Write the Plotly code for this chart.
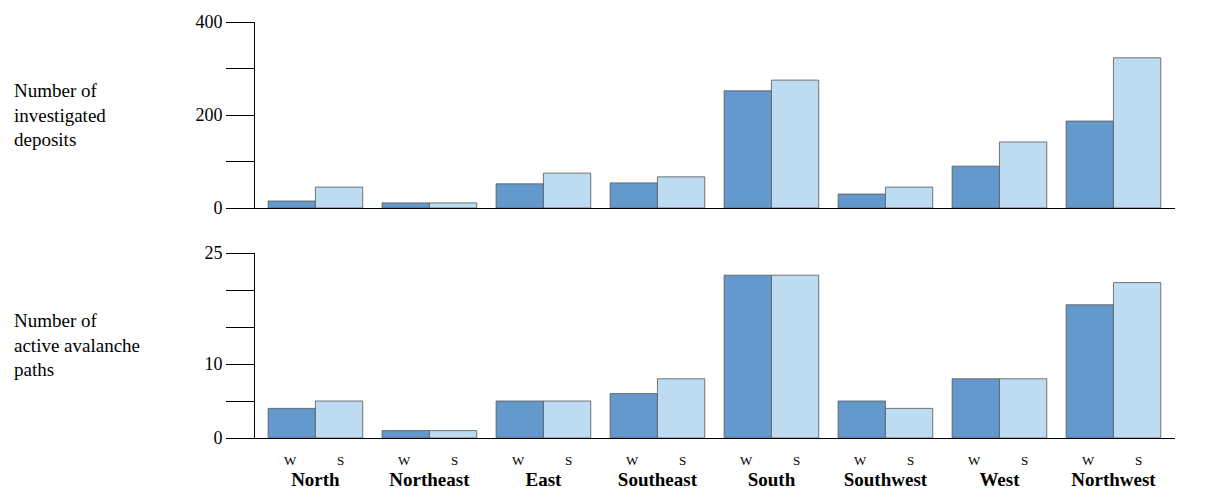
import plotly.graph_objects as go
from plotly.subplots import make_subplots

directions = ["North", "Northeast", "East", "Southeast", "South", "Southwest", "West", "Northwest"]
deposits_w = [15, 11, 52, 54, 252, 30, 90, 187]
deposits_s = [45, 11, 75, 67, 275, 45, 142, 323]
paths_w = [4, 1, 5, 6, 22, 5, 8, 18]
paths_s = [5, 1, 5, 8, 22, 4, 8, 21]

dark = "#6399cd"
light = "#bddcf1"
font = "Liberation Serif"

W, H = 1217, 489
OFF = 8  # page body margin


def px(x):
    return (x - OFF) / W


def py(y):
    return 1 - (y - OFF) / H


fig = make_subplots(rows=2, cols=1)
for row, (w, s) in enumerate([(deposits_w, deposits_s), (paths_w, paths_s)], start=1):
    fig.add_trace(go.Bar(x=directions, y=w, marker=dict(color=dark, line=dict(color="#555", width=0.8))), row=row, col=1)
    fig.add_trace(go.Bar(x=directions, y=s, marker=dict(color=light, line=dict(color="#555", width=0.8))), row=row, col=1)

xdom = [px(255), px(1175)]
xr = [-0.53, 7.54]
fig.update_layout(
    width=W, height=H, margin=dict(l=0, r=0, t=0, b=0),
    plot_bgcolor="white", paper_bgcolor="white", showlegend=False,
    barmode="group", bargap=0.17, bargroupgap=0,
    font=dict(family=font, size=18, color="black"),
    xaxis=dict(domain=xdom, range=xr, showline=True, linecolor="black", showticklabels=False, ticks="",
               automargin=False),
    xaxis2=dict(domain=xdom, range=xr, showline=True, linecolor="black", ticks="", automargin=False,
                tickvals=directions, ticktext=[f"<b>{d}</b>" for d in directions],
                ticklabelstandoff=24, tickfont=dict(size=19)),
    yaxis=dict(domain=[py(208), py(22)], range=[0, 400], showline=True, linecolor="black",
               showgrid=False, ticks="outside", ticklen=28, tickcolor="black", automargin=False,
               tickvals=[0, 100, 200, 300, 400], ticktext=["0", "", "200", "", "400"]),
    yaxis2=dict(domain=[py(438), py(253)], range=[0, 25], showline=True, linecolor="black",
                showgrid=False, ticks="outside", ticklen=28, tickcolor="black", automargin=False,
                tickvals=[0, 5, 10, 15, 20, 25], ticktext=["0", "", "10", "", "", "25"]),
)

fig.add_annotation(text="Number of<br>investigated<br>deposits", xref="paper", yref="paper", x=px(12),
                   y=py(115), xanchor="left", yanchor="middle", showarrow=False, align="left",
                   font=dict(size=19))
fig.add_annotation(text="Number of<br>active avalanche<br>paths", xref="paper", yref="paper", x=px(12),
                   y=py(345), xanchor="left", yanchor="middle", showarrow=False, align="left",
                   font=dict(size=19))
for d in directions:
    for lab, shift in (("W", -25), ("S", 25)):
        fig.add_annotation(text=lab, xref="x2", yref="paper", x=d, y=py(460), xshift=shift,
                           yanchor="middle", showarrow=False, font=dict(size=13))

fig.write_html("out.html")
